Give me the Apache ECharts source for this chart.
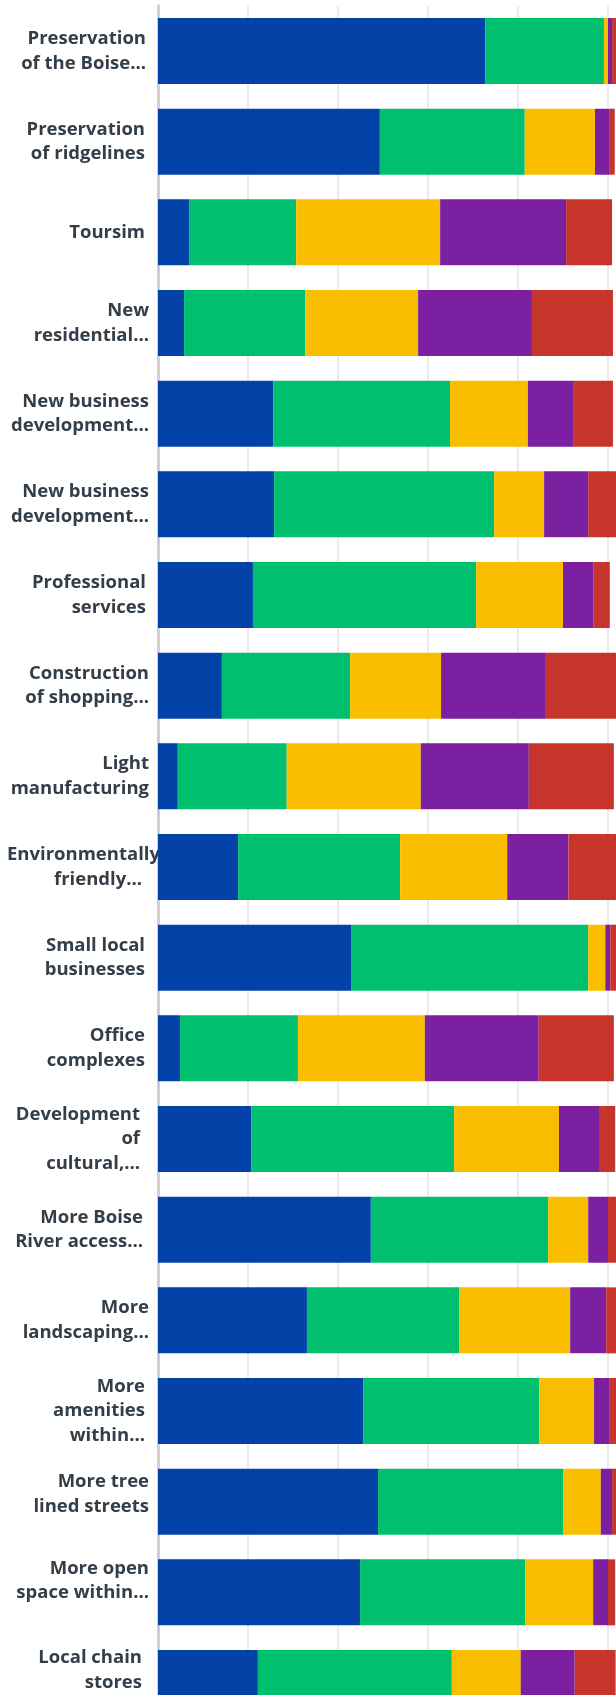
<!DOCTYPE html>
<html>
<head>
<meta charset="utf-8">
<script src="https://cdn.jsdelivr.net/npm/echarts@6/dist/echarts.min.js"></script>
<style>
html,body{margin:0;padding:0;background:#ffffff;}
#main{width:616px;height:1695px;}
</style>
</head>
<body>
<div id="main"></div>
<script>
// ---------- data ----------
const categories = [
  'Preservation\nof the Boise...',
  'Preservation\nof ridgelines',
  'Toursim',
  'New\nresidential...',
  'New business\ndevelopment...',
  'New business\ndevelopment...',
  'Professional\nservices',
  'Construction\nof shopping...',
  'Light\nmanufacturing',
  'Environmentally\nfriendly...',
  'Small local\nbusinesses',
  'Office\ncomplexes',
  'Development\nof\ncultural,...',
  'More Boise\nRiver access...',
  'More\nlandscaping...',
  'More\namenities\nwithin...',
  'More tree\nlined streets',
  'More open\nspace within...',
  'Local chain\nstores'
];

const seriesNames = ['Response 1', 'Response 2', 'Response 3', 'Response 4', 'Response 5'];

const response1 = [72.7, 49.3, 6.9, 5.8, 25.6, 25.8, 21.1, 14.2, 4.4, 17.8, 42.9, 4.9, 20.7, 47.3, 33.1, 45.6, 48.9, 44.9, 22.2];
const response2 = [26.4, 32.2, 23.8, 26.9, 39.3, 48.9, 49.6, 28.5, 24.2, 36.0, 52.7, 26.2, 45.1, 39.4, 33.8, 39.1, 41.1, 36.7, 43.1];
const response3 = [0.9, 15.6, 32.0, 25.1, 17.3, 11.1, 19.3, 20.2, 29.8, 23.8, 3.8, 28.2, 23.3, 8.9, 24.7, 12.2, 8.4, 15.1, 15.3];
const response4 = [0.9, 3.3, 28.0, 25.3, 10.2, 9.8, 6.7, 23.1, 24.0, 13.6, 1.1, 25.3, 8.9, 4.4, 8.0, 3.5, 2.5, 3.3, 12.0];
const response5 = [0.9, 1.1, 10.2, 18.0, 8.7, 6.2, 3.7, 15.8, 18.9, 10.7, 1.3, 16.7, 3.6, 1.8, 2.2, 1.4, 0.9, 1.6, 9.1];

// ---------- styling ----------
const colors = ['#0343a8', '#00bf6f', '#f9be00', '#7b20a0', '#c6342c'];
const labelInsets = [3, 4, 4, 0, 0, 0, 3, 0, 0, 7, 4, 4, 9, 6, 0, 4, 0, 0, 7];
const labelLift = {16: 7.5, 17: 11.5, 18: 13};
const overflowFirstLine = {9: true};

const FONT = {
  fontFamily: '"Open Sans", "Noto Sans", sans-serif',
  fontSize: 18.5,
  fontWeight: 700,
  color: '#333e48',
  lineHeight: 24.5
};
const rich = {};
labelInsets.forEach(function (p, i) {
  rich['t' + i] = Object.assign({}, FONT, {padding: [0, p, 0, 0], align: 'right'});
});
rich.lft = Object.assign({}, FONT, {align: 'left'});

const yData = categories.map(function (c, i) {
  if (labelLift[i]) {
    return {value: c, textStyle: {padding: [0, 0, 2 * labelLift[i], 0]}};
  }
  return c;
});

const allSeries = [response1, response2, response3, response4, response5].map(function (vals, i) {
  return {
    name: seriesNames[i],
    type: 'bar',
    stack: 'total',
    barWidth: 66,
    clip: false,
    data: vals,
    itemStyle: {color: colors[i]},
    emphasis: {disabled: true}
  };
});

const chart = echarts.init(document.getElementById('main'), null, {renderer: 'canvas'});
chart.setOption({
  animation: false,
  backgroundColor: '#ffffff',
  grid: {left: 158, right: 8, top: 5.67, height: 1722.7, containLabel: false, outerBoundsMode: 'none'},
  xAxis: {
    type: 'value',
    min: 0,
    max: 100,
    interval: 20,
    axisLine: {show: false},
    axisTick: {show: false},
    axisLabel: {show: false},
    splitLine: {show: true, lineStyle: {color: '#ebebeb', width: 2}}
  },
  yAxis: {
    type: 'category',
    inverse: true,
    data: yData,
    axisLine: {show: true, lineStyle: {color: '#d0d0d0', width: 3}},
    axisTick: {show: false},
    splitLine: {show: false},
    axisLabel: Object.assign({}, FONT, {
      interval: 0,
      margin: 9,
      width: 142,
      overflow: 'none',
      hideOverlap: false,
      rich: rich,
      formatter: function (value, index) {
        return value.split('\n').map(function (line, k) {
          if (overflowFirstLine[index] && k === 0) return '{lft|' + line + '}';
          return '{t' + index + '|' + line + '}';
        }).join('\n');
      }
    })
  },
  series: allSeries
});
</script>
</body>
</html>
